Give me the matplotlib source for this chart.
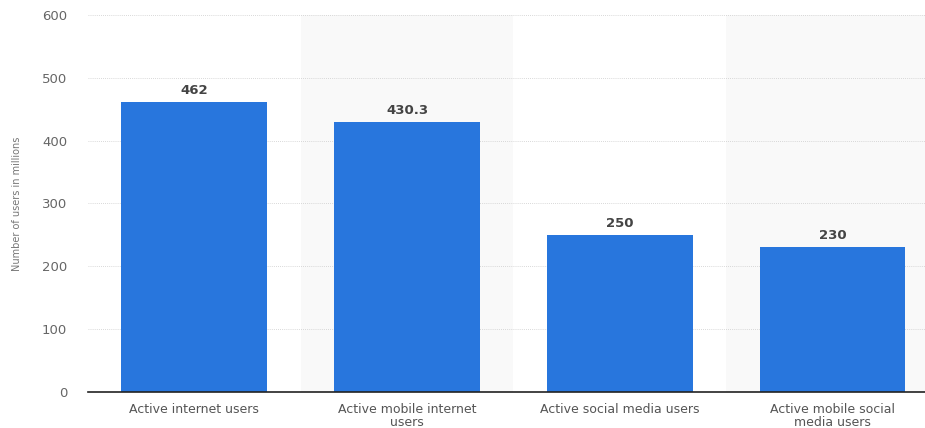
import matplotlib
matplotlib.use("Agg")
import matplotlib.pyplot as plt

categories = ["Active internet users", "Active mobile internet\nusers",
              "Active social media users", "Active mobile social\nmedia users"]
values = [462, 430.3, 250, 230]
labels = ["462", "430.3", "250", "230"]
yticks = [0, 100, 200, 300, 400, 500, 600]

fig = plt.figure(figsize=(9.25, 4.28), dpi=100)
ax = fig.add_axes([88 / 925, 36 / 428, 837 / 925, 377 / 428])

x = range(len(categories))
# alternating background bands
for i in x:
    if i % 2 == 1:
        ax.axvspan(i - 0.5, i + 0.5, color="#f9f9f9", zorder=0, lw=0)

ax.bar(x, values, width=0.686, color="#2876dd", zorder=3)
for i, (v, t) in enumerate(zip(values, labels)):
    ax.text(i, v + 8, t, ha="center", va="bottom", fontsize=9.5,
            fontweight="bold", color="#444444", zorder=4)

ax.set_xlim(-0.5, 3.435)
ax.set_ylim(0, 600)
ax.set_yticks(yticks)
ax.set_yticklabels([str(t) for t in yticks], color="#666666", fontsize=9.5)
ax.set_xticks(list(x))
ax.set_xticklabels(categories, color="#555555", fontsize=9, linespacing=0.95)
ax.tick_params(axis="both", length=0)
ax.tick_params(axis="y", pad=15)
ax.tick_params(axis="x", pad=8)

ax.grid(axis="y", linestyle=(0, (1, 1.5)), color="#cccccc", lw=0.6, zorder=1)
for s in ["top", "right", "left"]:
    ax.spines[s].set_visible(False)
ax.spines["bottom"].set_color("#222222")
ax.spines["bottom"].set_linewidth(1.2)
ax.spines["bottom"].set_zorder(5)

ax.set_ylabel("Number of users in millions", fontsize=7, color="#777777", labelpad=14)

fig.savefig("out.png", dpi=100)
